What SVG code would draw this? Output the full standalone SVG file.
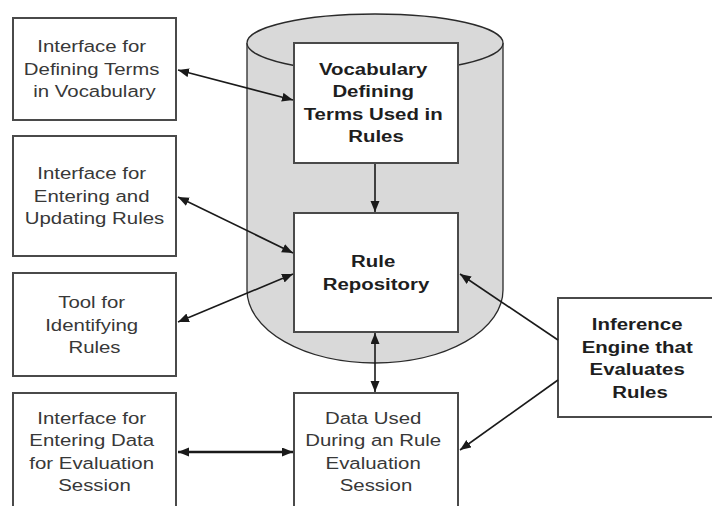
<svg xmlns="http://www.w3.org/2000/svg" width="712" height="506" viewBox="0 0 712 506">
  <style>
    .box { fill: #ffffff; stroke: #4a4a4a; stroke-width: 2; }
    .cyl { fill: #d9d9d9; stroke: #2a2a2a; stroke-width: 1.3; }
    .lbl { font-family: "Liberation Sans", Arial, sans-serif; font-size: 17px; fill: #383838; text-anchor: middle; }
    .bold { font-weight: bold; fill: #1e1e1e; }
    .conn { fill: none; stroke: #1a1a1a; stroke-width: 1.6; }
    .thick { stroke-width: 2.6; }
  </style>
  <defs>
    <marker id="head" markerUnits="userSpaceOnUse" markerWidth="12" markerHeight="10" refX="11" refY="4.5" orient="auto-start-reverse">
      <path d="M0,0 L11,4.5 L0,9 z" fill="#1a1a1a"/>
    </marker>
  </defs>

  <rect width="712" height="506" fill="#ffffff"/>

  <!-- repository cylinder -->
  <g id="repository-store">
    <path class="cyl" d="M247,43 L247,290 A128,73 0 0 0 503,290 L503,43"/>
    <ellipse class="cyl" cx="375" cy="43" rx="128" ry="29"/>
  </g>

  <g id="vocab-interface">
    <rect class="box" x="13" y="18" width="163" height="102"/>
    <text class="lbl" transform="translate(94.5 0) scale(1.2 1)">
      <tspan x="0" y="52.5">Interface for</tspan>
      <tspan x="0" y="75">Defining Terms</tspan>
      <tspan x="0" y="97.5">in Vocabulary</tspan>
    </text>
  </g>

  <g id="rules-interface">
    <rect class="box" x="13" y="136" width="163" height="120"/>
    <text class="lbl" transform="translate(94.5 0) scale(1.2 1)">
      <tspan x="0" y="179.5">Interface for</tspan>
      <tspan x="0" y="202">Entering and</tspan>
      <tspan x="0" y="224.5">Updating Rules</tspan>
    </text>
  </g>

  <g id="identify-tool">
    <rect class="box" x="13" y="273" width="163" height="103"/>
    <text class="lbl" transform="translate(94.5 0) scale(1.2 1)">
      <tspan x="0" y="308.5">Tool for</tspan>
      <tspan x="0" y="331">Identifying</tspan>
      <tspan x="0" y="353.5">Rules</tspan>
    </text>
  </g>

  <g id="data-interface">
    <rect class="box" x="13" y="393" width="163" height="130"/>
    <text class="lbl" transform="translate(94.5 0) scale(1.2 1)">
      <tspan x="0" y="424">Interface for</tspan>
      <tspan x="0" y="446.5">Entering Data</tspan>
      <tspan x="0" y="469">for Evaluation</tspan>
      <tspan x="0" y="491.5">Session</tspan>
    </text>
  </g>

  <g id="vocabulary">
    <rect class="box" x="294" y="43" width="164" height="120"/>
    <text class="lbl bold" transform="translate(376 0) scale(1.2 1)">
      <tspan x="0" y="75">Vocabulary</tspan>
      <tspan x="0" y="97.5">Defining</tspan>
      <tspan x="0" y="120">Terms Used in</tspan>
      <tspan x="0" y="142.5">Rules</tspan>
    </text>
  </g>

  <g id="rule-repository">
    <rect class="box" x="294" y="213" width="164" height="119"/>
    <text class="lbl bold" transform="translate(376 0) scale(1.2 1)">
      <tspan x="0" y="267.5">Rule</tspan>
      <tspan x="0" y="290">Repository</tspan>
    </text>
  </g>

  <g id="session-data">
    <rect class="box" x="294" y="393" width="164" height="130"/>
    <text class="lbl" transform="translate(376 0) scale(1.2 1)">
      <tspan x="0" y="424">Data Used</tspan>
      <tspan x="0" y="446.5">During an Rule</tspan>
      <tspan x="0" y="469">Evaluation</tspan>
      <tspan x="0" y="491.5">Session</tspan>
    </text>
  </g>

  <g id="inference-engine">
    <rect class="box" x="558" y="298" width="166" height="119"/>
    <text class="lbl bold" transform="translate(640 0) scale(1.2 1)">
      <tspan x="0" y="330.5">Inference</tspan>
      <tspan x="0" y="353">Engine that</tspan>
      <tspan x="0" y="375.5">Evaluates</tspan>
      <tspan x="0" y="398">Rules</tspan>
    </text>
  </g>

  <g id="connectors">
    <line class="conn" x1="178" y1="70" x2="293" y2="100" marker-start="url(#head)" marker-end="url(#head)"/>
    <line class="conn" x1="178" y1="197" x2="293" y2="253" marker-start="url(#head)" marker-end="url(#head)"/>
    <line class="conn" x1="178" y1="322" x2="293" y2="274" marker-start="url(#head)" marker-end="url(#head)"/>
    <line class="conn" x1="375" y1="164" x2="375" y2="212" stroke-width="2.2" marker-end="url(#head)"/>
    <line class="conn" x1="375" y1="333" x2="375" y2="392" stroke-width="2.4" marker-start="url(#head)" marker-end="url(#head)"/>
    <line class="conn thick" x1="178" y1="452" x2="293" y2="452" marker-start="url(#head)" marker-end="url(#head)"/>
    <line class="conn" x1="558" y1="340" x2="460" y2="274" marker-end="url(#head)"/>
    <line class="conn" x1="558" y1="380" x2="460" y2="450" marker-end="url(#head)"/>
  </g>
</svg>
